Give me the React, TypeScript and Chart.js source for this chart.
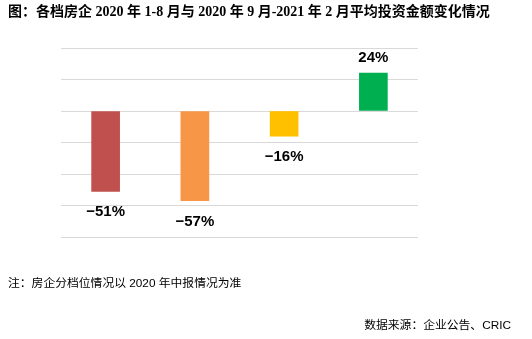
import React, { useEffect, useRef } from "react";
import { Chart, registerables } from "chart.js";

Chart.register(...registerables);

const categories = ["第一档", "第二档", "第三档", "第四档"];
const values = [-51, -57, -16, 24];
const valueLabels = ["\u221251%", "\u221257%", "\u221216%", "24%"];
const barColors = ["#C0504D", "#F79646", "#FFC000", "#00B050"];
const yMin = -80;
const yMax = 40;
const yStep = 20;

const titleText = "图：各档房企 2020 年 1-8 月与 2020 年 9 月-2021 年 2 月平均投资金额变化情况";
const noteText = "注：房企分档位情况以 2020 年中报情况为准";
const sourceText = "数据来源：企业公告、CRIC";

const labelPlugin = {
  id: "barLabels",
  afterDatasetsDraw(chart: any) {
    const ctx = chart.ctx;
    const meta = chart.getDatasetMeta(0);
    ctx.save();
    ctx.font = "bold 15px 'Liberation Sans', Arial, sans-serif";
    ctx.fillStyle = "#000";
    ctx.textAlign = "center";
    ctx.textBaseline = "alphabetic";
    meta.data.forEach((bar: any, i: number) => {
      const v = values[i];
      const y = v < 0 ? bar.y + 25 : bar.y - 11;
      ctx.fillText(valueLabels[i], bar.x, y);
    });
    ctx.restore();
  },
};

export default function App() {
  const ref = useRef<HTMLCanvasElement>(null);
  useEffect(() => {
    document.body.style.margin = "0";
    const chart = new Chart(ref.current!, {
      type: "bar",
      data: {
        labels: categories,
        datasets: [
          {
            data: values,
            backgroundColor: barColors,
            barThickness: 28,
          },
        ],
      },
      options: {
        animation: false,
        responsive: false,
        maintainAspectRatio: false,
        layout: { padding: { left: 61, right: 114, top: 48, bottom: 102 } },
        plugins: { legend: { display: false }, tooltip: { enabled: false } },
        scales: {
          x: { display: false },
          y: {
            display: true,
            min: yMin,
            max: yMax,
            ticks: { display: false, stepSize: yStep },
            border: { display: false },
            grid: { color: "#d9d9d9", lineWidth: 1, drawTicks: false },
          },
        },
      },
      plugins: [labelPlugin],
    });
    return () => chart.destroy();
  }, []);

  return (
    <div style={{ position: "relative", width: 532, height: 339, background: "#fff", overflow: "hidden" }}>
      <canvas ref={ref} width={532} height={339} style={{ position: "absolute", left: 0, top: 0 }} />
      <div
        style={{
          position: "absolute",
          left: 8,
          top: 3,
          fontFamily: "'Liberation Serif', 'Noto Sans CJK SC', serif",
          fontWeight: "bold",
          fontSize: 14,
          lineHeight: "18px",
          color: "#000",
          whiteSpace: "nowrap",
        }}
      >
        {titleText}
      </div>
      <div
        style={{
          position: "absolute",
          left: 8,
          top: 275,
          fontFamily: "'Liberation Sans', 'Noto Sans CJK SC', sans-serif",
          fontSize: 11.8,
          lineHeight: "16px",
          color: "#000",
          whiteSpace: "nowrap",
        }}
      >
        {noteText}
      </div>
      <div
        style={{
          position: "absolute",
          right: 21,
          top: 317,
          fontFamily: "'Liberation Sans', 'Noto Sans CJK SC', sans-serif",
          fontSize: 11.8,
          lineHeight: "16px",
          color: "#000",
          whiteSpace: "nowrap",
        }}
      >
        {sourceText}
      </div>
    </div>
  );
}
